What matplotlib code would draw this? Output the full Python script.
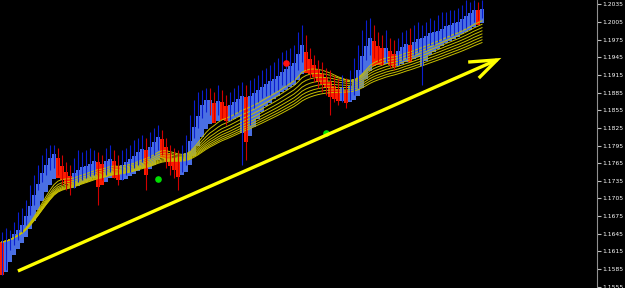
import numpy as np
import pandas as pd
import matplotlib
matplotlib.use("Agg")
import matplotlib.pyplot as plt

# #############################################################################
# Price data, one bar per entry
close = [1.1631, 1.1634, 1.1638, 1.1648, 1.1655, 1.1665, 1.1682, 1.1702, 1.1719, 1.1740,
         1.1757, 1.1770, 1.1779, 1.1784, 1.1770, 1.1753, 1.1745, 1.1740, 1.1750, 1.1757,
         1.1760, 1.1762, 1.1765, 1.1770, 1.1767, 1.1762, 1.1770, 1.1774, 1.1767, 1.1757,
         1.1762, 1.1770, 1.1774, 1.1779, 1.1787, 1.1791, 1.1787, 1.1796, 1.1804, 1.1813,
         1.1804, 1.1787, 1.1774, 1.1770, 1.1767, 1.1774, 1.1787, 1.1813, 1.1838, 1.1855,
         1.1872, 1.1876, 1.1872, 1.1864, 1.1872, 1.1869, 1.1859, 1.1864, 1.1872, 1.1876,
         1.1881, 1.1876, 1.1881, 1.1886, 1.1893, 1.1898, 1.1903, 1.1906, 1.1910, 1.1915,
         1.1923, 1.1927, 1.1932, 1.1937, 1.1958, 1.1974, 1.1949, 1.1937, 1.1927, 1.1920,
         1.1913, 1.1906, 1.1900, 1.1893, 1.1889, 1.1893, 1.1889, 1.1898, 1.1915, 1.1932,
         1.1958, 1.1974, 1.1983, 1.1971, 1.1961, 1.1958, 1.1961, 1.1954, 1.1949, 1.1958,
         1.1966, 1.1971, 1.1966, 1.1974, 1.1978, 1.1978, 1.1983, 1.1988, 1.1988, 1.1991,
         1.1995, 1.2000, 1.2000, 1.2005, 1.2005, 1.2012, 1.2017, 1.2022, 1.2029, 1.2025,
         1.2029]
high = [1.1648, 1.1655, 1.1652, 1.1665, 1.1682, 1.1689, 1.1702, 1.1728, 1.1745, 1.1762,
        1.1779, 1.1791, 1.1796, 1.1796, 1.1791, 1.1779, 1.1767, 1.1762, 1.1774, 1.1788,
        1.1784, 1.1788, 1.1791, 1.1788, 1.1784, 1.1779, 1.1791, 1.1796, 1.1788, 1.1779,
        1.1788, 1.1791, 1.1796, 1.1804, 1.1808, 1.1813, 1.1808, 1.1818, 1.1825, 1.1830,
        1.1821, 1.1808, 1.1796, 1.1791, 1.1788, 1.1796, 1.1813, 1.1847, 1.1872, 1.1886,
        1.1889, 1.1893, 1.1893, 1.1886, 1.1898, 1.1889, 1.1881, 1.1886, 1.1893, 1.1898,
        1.1903, 1.1898, 1.1906, 1.1910, 1.1915, 1.1923, 1.1927, 1.1932, 1.1937, 1.1944,
        1.1954, 1.1957, 1.1961, 1.1966, 1.1988, 1.2000, 1.1983, 1.1961, 1.1949, 1.1940,
        1.1937, 1.1927, 1.1923, 1.1915, 1.1910, 1.1915, 1.1910, 1.1923, 1.1944, 1.1966,
        1.1991, 1.2008, 1.2012, 1.2000, 1.1988, 1.1983, 1.1991, 1.1978, 1.1974, 1.1978,
        1.1988, 1.1991, 1.1995, 1.2000, 1.2005, 1.2000, 1.2005, 1.2012, 1.2008, 1.2017,
        1.2022, 1.2022, 1.2025, 1.2025, 1.2029, 1.2034, 1.2042, 1.2039, 1.2042, 1.2039,
        1.2042]
low = [1.1575, 1.1584, 1.1617, 1.1626, 1.1634, 1.1648, 1.1660, 1.1677, 1.1694, 1.1719,
       1.1733, 1.1745, 1.1753, 1.1757, 1.1745, 1.1728, 1.1719, 1.1711, 1.1723, 1.1733,
       1.1736, 1.1740, 1.1743, 1.1745, 1.1694, 1.1736, 1.1745, 1.1750, 1.1740, 1.1728,
       1.1736, 1.1745, 1.1750, 1.1757, 1.1762, 1.1767, 1.1719, 1.1774, 1.1779, 1.1787,
       1.1779, 1.1757, 1.1745, 1.1740, 1.1719, 1.1750, 1.1762, 1.1787, 1.1808, 1.1825,
       1.1842, 1.1852, 1.1847, 1.1835, 1.1847, 1.1842, 1.1830, 1.1838, 1.1847, 1.1852,
       1.1762, 1.1770, 1.1830, 1.1859, 1.1869, 1.1876, 1.1879, 1.1881, 1.1886, 1.1889,
       1.1898, 1.1898, 1.1903, 1.1906, 1.1923, 1.1937, 1.1923, 1.1910, 1.1903, 1.1893,
       1.1886, 1.1881, 1.1847, 1.1869, 1.1864, 1.1869, 1.1859, 1.1872, 1.1881, 1.1893,
       1.1920, 1.1940, 1.1949, 1.1944, 1.1937, 1.1932, 1.1937, 1.1927, 1.1923, 1.1932,
       1.1940, 1.1944, 1.1940, 1.1949, 1.1954, 1.1898, 1.1958, 1.1966, 1.1966, 1.1971,
       1.1974, 1.1978, 1.1981, 1.1983, 1.1988, 1.1991, 1.1995, 1.2000, 1.2005, 1.2008,
       1.2012]

# signal dots (bar index, price)
green_idx = [39, 81]
green_price = [1.1738, 1.1816]
red_idx = [71]
red_price = [1.1935]

price_ticks = [1.1555, 1.1585, 1.1615, 1.1645, 1.1675, 1.1705, 1.1735, 1.1765, 1.1795,
               1.1825, 1.1855, 1.1885, 1.1915, 1.1945, 1.1975, 1.2005, 1.2035]

ma_spans = [15, 19, 23, 27, 31, 35, 39, 43]

# #############################################################################
# Indicators
df = pd.DataFrame({"close": close, "high": high, "low": low})
x = np.arange(len(df))
band_top = df["close"].ewm(span=2).mean()
band_bot = df["low"].ewm(span=5).mean()
rising = band_top.diff().fillna(-1) >= 0
band_col = np.where(rising, "#4a6fe3", "#ff1c00")
up = df["close"].diff().fillna(0) >= 0
wick_col = np.where(up, "#0a1ed0", "#d00000")

# #############################################################################
# Plot
fig = plt.figure(figsize=(6.25, 2.88), dpi=100)
fig.patch.set_facecolor("black")
ax = fig.add_axes([0, 0, 597 / 625, 1])
ax.set_facecolor("black")

ax.bar(x, band_top - band_bot, bottom=band_bot, width=0.82, color=band_col,
       linewidth=0, antialiased=False, zorder=2)
for s in ma_spans:
    ax.plot(x, df["close"].ewm(span=s).mean(), color="#c8c000", lw=0.7, zorder=3)
ax.vlines(x, df["low"], df["high"], colors=wick_col, lw=0.8, zorder=4)

ax.scatter(green_idx, green_price, s=14, color="#00e000", zorder=5)
ax.scatter(red_idx, red_price, s=14, color="#ff1010", zorder=5)

# trend arrow
ax.plot([0.030, 0.8325], [0.059, 0.792], color="#ffff00", lw=2.4,
        transform=ax.transAxes, solid_capstyle="butt", zorder=6)
ax.plot([0.787, 0.8325, 0.804], [0.785, 0.792, 0.733], color="#ffff00", lw=2.4,
        transform=ax.transAxes, solid_joinstyle="miter", zorder=6)

ax.set_xlim(-0.5, 148.75)
ax.set_ylim(1.15528, 1.20424)
ax.set_xticks([])
ax.yaxis.tick_right()
ax.set_yticks(price_ticks)
ax.set_yticklabels(["%.4f" % p for p in price_ticks])
ax.tick_params(axis="y", colors="#c0c0c0", labelcolor="white", labelsize=4.3,
               length=3, width=0.8, pad=0.8)
for side in ["left", "top", "bottom"]:
    ax.spines[side].set_visible(False)
ax.spines["right"].set_color("#909090")

fig.savefig("out.png", dpi=100, facecolor="black")
